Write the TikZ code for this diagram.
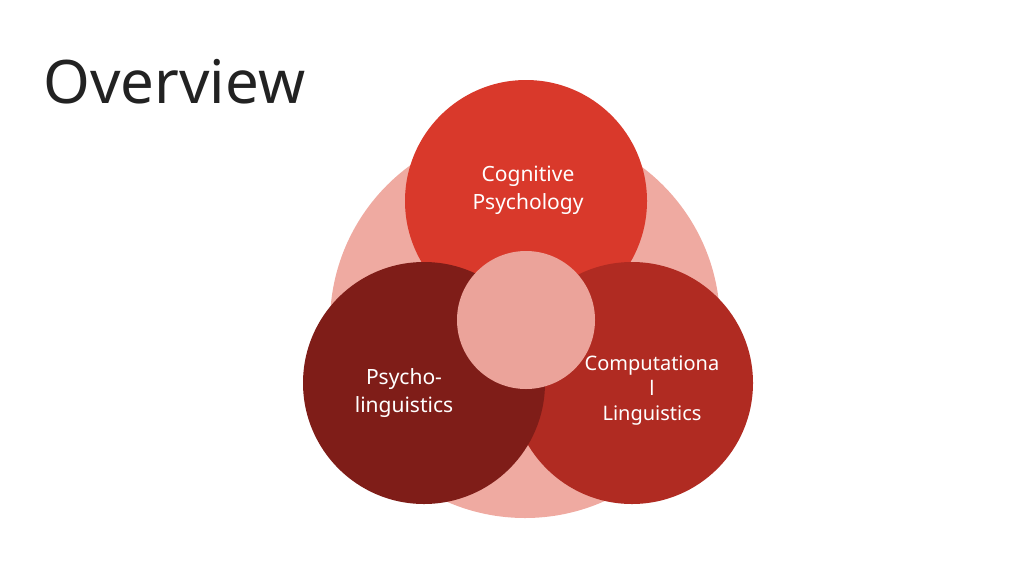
\documentclass[tikz,border=0pt]{standalone}
\usepackage{fontspec}
\setmainfont{Noto Sans}
\definecolor{cBig}{HTML}{EFAAA1}
\definecolor{cTop}{HTML}{D9392B}
\definecolor{cLeft}{HTML}{7F1D18}
\definecolor{cRight}{HTML}{B02B22}
\definecolor{cMid}{HTML}{EBA39A}
\definecolor{cTitle}{HTML}{222222}
\begin{document}
\begin{tikzpicture}[x=1pt,y=-1pt,
  lbl/.style={text=white,align=center,font=\fontsize{21}{28}\selectfont}]
\useasboundingbox (0,0) rectangle (1024,576);
\node[anchor=west,text=cTitle,font=\fontsize{60}{60}\selectfont\bfseries] (title) at (40,82) {Overview};
\fill[cBig] (525,323) circle (195) coordinate (big);
\fill[cTop] (526,201) circle (121);
\fill[cRight] (632,383) circle (121);
\fill[cLeft] (424,383) circle (121);
\fill[cMid] (526,320) circle (69);
\node[lbl] (t) at (528,190) {Cognitive\\Psychology};
\node[lbl] (l) at (404,393) {Psycho-\\linguistics};
\node[lbl,font=\fontsize{20}{25}\selectfont] (r) at (652,391) {Computationa\\l\\Linguistics};
\end{tikzpicture}
\end{document}
